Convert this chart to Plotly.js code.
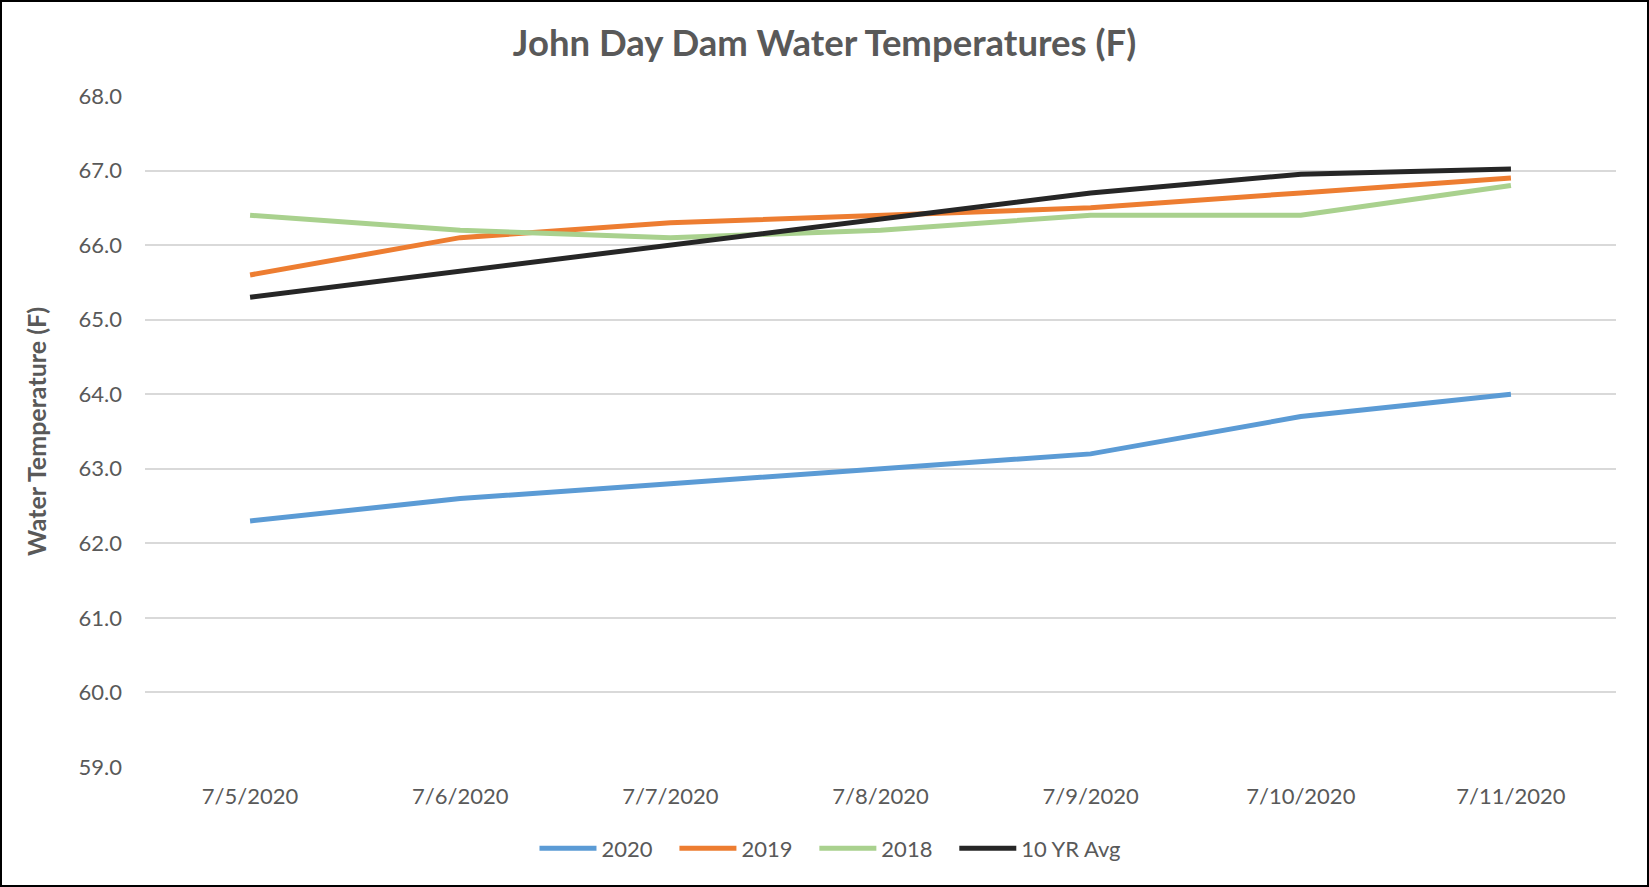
<!DOCTYPE html>
<html>
<head>
<meta charset="utf-8">
<script src="https://cdn.plot.ly/plotly-3.0.1.min.js"></script>
<style>
html,body{margin:0;padding:0;background:#fff;}
#wrap{width:1645px;height:883px;border:2px solid #000;overflow:hidden;}
#chart{width:1645px;height:883px;}
</style>
</head>
<body>
<div id="wrap"><div id="chart"></div></div>
<script>
const dates = ["7/5/2020","7/6/2020","7/7/2020","7/8/2020","7/9/2020","7/10/2020","7/11/2020"];
const temps2020 = [62.3, 62.6, 62.8, 63.0, 63.2, 63.7, 64.0];
const temps2019 = [65.6, 66.1, 66.3, 66.4, 66.5, 66.7, 66.9];
const temps2018 = [66.4, 66.2, 66.1, 66.2, 66.4, 66.4, 66.8];
const tenYrAvg = [65.3, 65.65, 66.0, 66.35, 66.7, 66.95, 67.02];
const seriesNames = ["2020", "2019", "2018", "10 YR Avg"];
const yTicks = [59, 60, 61, 62, 63, 64, 65, 66, 67, 68];

const colors = ["#5B9BD5", "#ED7D31", "#A9D18E", "#262626"];
const allSeries = [temps2020, temps2019, temps2018, tenYrAvg];
const pad = "\u00a0\u00a0\u00a0";
const traces = allSeries.map((ys, i) => ({
  type: "scatter",
  mode: "lines",
  x: dates,
  y: ys,
  name: seriesNames[i] + (i < allSeries.length - 1 ? pad : ""),
  line: {color: colors[i], width: 5}
}));

const gray = "#595959";
const fam = "Lato, 'Open Sans', sans-serif";
const layout = {
  width: 1645,
  height: 883,
  paper_bgcolor: "#fff",
  plot_bgcolor: "#fff",
  margin: {l: 143, r: 31, t: 94, b: 118},
  font: {family: fam, color: gray, size: 22},
  title: {
    text: "<b>John Day Dam Water Temperatures (F)</b>",
    font: {family: fam, size: 36.5, color: gray},
    x: 0.5, xanchor: "center", y: 0.953, yanchor: "middle"
  },
  xaxis: {
    type: "category",
    range: [-0.5, 6.5],
    showgrid: false,
    zeroline: false,
    showline: false,
    ticks: "",
    ticklabelstandoff: 14,
    tickfont: {size: 22, color: gray}
  },
  yaxis: {
    range: [59, 68],
    tickvals: yTicks,
    ticktext: yTicks.map(v => v.toFixed(1)),
    showgrid: true,
    gridcolor: "#d9d9d9",
    gridwidth: 2,
    zeroline: false,
    showline: false,
    ticks: "",
    ticklabelstandoff: 22,
    tickfont: {size: 22, color: gray},
    title: {
      text: "<b>Water Temperature (F)</b>",
      font: {size: 25, color: gray},
      standoff: 24
    }
  },
  showlegend: true,
  legend: {
    orientation: "h",
    x: 0.466, xanchor: "center",
    y: -0.09, yanchor: "top",
    font: {size: 22, color: gray},
    itemwidth: 57,
    tracegroupgap: 0
  }
};

Plotly.newPlot("chart", traces, layout, {staticPlot: true, displayModeBar: false});
</script>
</body>
</html>
